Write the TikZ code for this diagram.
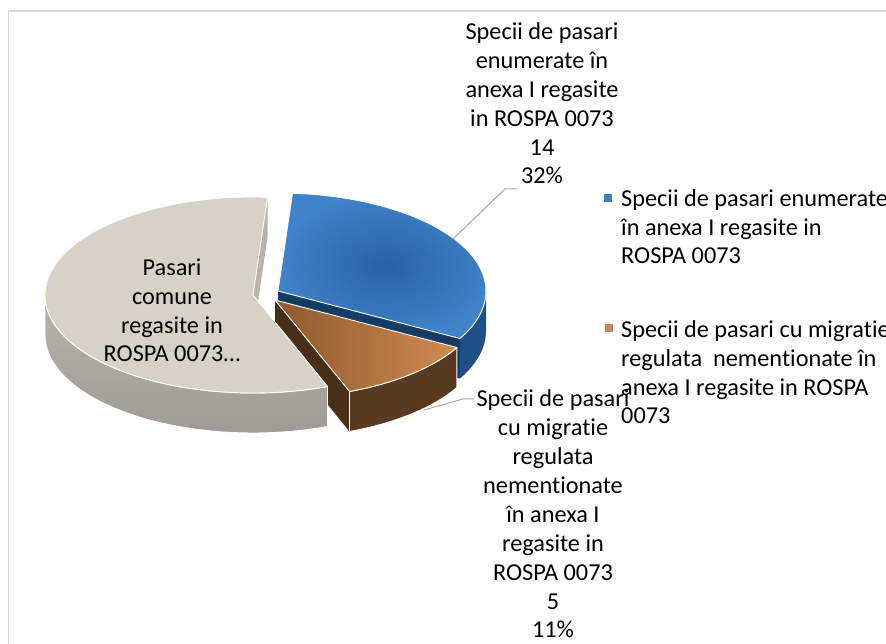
\documentclass[tikz,border=0pt]{standalone}
\usepackage{fontspec}
\setmainfont{Carlito}[Ligatures=NoCommon]
\usetikzlibrary{calc}

\definecolor{bluetop}{HTML}{3F83CA}
\definecolor{bluedark}{HTML}{2A62A2}
\definecolor{blueside}{HTML}{1F5186}
\definecolor{blueface}{HTML}{163C64}
\definecolor{brownlight}{HTML}{D08A50}
\definecolor{browndark}{HTML}{8E5A2E}
\definecolor{brownside}{HTML}{5A3A1E}
\definecolor{brownface}{HTML}{4A2F18}
\definecolor{graytop}{HTML}{D8D2C6}
\definecolor{grayside}{HTML}{B9B4AB}
\definecolor{graylow}{HTML}{9E9A93}
\definecolor{leadgray}{HTML}{A6A6A6}
\definecolor{framegray}{HTML}{D9D9D9}
\definecolor{legblue}{HTML}{3F7FBF}
\definecolor{legbrown}{HTML}{C8875A}

\tikzset{
  lbl/.style={font=\fontsize{24.3}{28.9}\selectfont, align=center, inner sep=0pt},
  legtext/.style={font=\fontsize{24.3}{28.9}\selectfont, align=left, inner sep=0pt, anchor=base west},
  lead/.style={draw=leadgray, line width=1pt},
  rim/.style={draw=white, line width=0.9pt, line join=round},
  pie/.style={x radius=208, y radius=98}
}

\begin{document}
\begin{tikzpicture}[x=1pt, y=1pt]
\useasboundingbox (0,0) rectangle (886,644);
\clip (0,0) rectangle (886,644);
\draw[framegray, line width=1.5pt] (8.5,-2) -- (8.5,633) -- (890,633);

\coordinate (cbl) at (278,353);
\coordinate (cbr) at (275,344);
\coordinate (cgr) at (253,349);

% blue slice
\fill[blueface] (cbl) -- ($(cbl)+(-29:208 and 98)$) -- ++(0,-40) -- ($(cbl)+(0,-40)$) -- cycle;
\fill[blueside] ($(cbl)+(-29:208 and 98)$) arc[pie, start angle=-29, end angle=0]
    -- ++(0,-40) arc[pie, start angle=0, end angle=-29] -- cycle;
\shadedraw[inner color=bluedark, outer color=bluetop, rim] (cbl) -- ($(cbl)+(86:208 and 98)$)
    arc[pie, start angle=86, end angle=-29] -- cycle;

% brown slice
\fill[brownface] (cbr) -- ($(cbr)+(-69:208 and 98)$) -- ++(0,-40) -- ($(cbr)+(0,-40)$) -- cycle;
\filldraw[brownside, rim] ($(cbr)+(-69:208 and 98)$) arc[pie, start angle=-69, end angle=-29]
    -- ++(0,-40) arc[pie, start angle=-29, end angle=-69] -- cycle;
\shadedraw[left color=browndark, right color=brownlight, rim] (cbr) -- ($(cbr)+(-29:208 and 98)$)
    arc[pie, start angle=-29, end angle=-69] -- cycle;

% gray slice
\fill[grayside] (cgr) -- ($(cgr)+(86:208 and 98)$) -- ++(0,-40) -- ($(cgr)+(0,-40)$) -- cycle;
\shadedraw[top color=grayside, bottom color=graylow, rim] ($(cgr)+(180:208 and 98)$) arc[pie, start angle=180, end angle=291]
    -- ++(0,-40) arc[pie, start angle=291, end angle=180] -- cycle;
\filldraw[graytop, rim] (cgr) -- ($(cgr)+(86:208 and 98)$)
    arc[pie, start angle=86, end angle=291] -- cycle;

% labels (base = last line)
\node[lbl, anchor=base] (toplbl) at (542,460) {Specii de pasari\\enumerate în\\anexa I regasite\\in ROSPA 0073\\14\\32\%};
\node[lbl, anchor=base] (botlbl) at (553,6) {Specii de pasari\\cu migratie\\regulata\\nementionate\\în anexa I\\regasite in\\ROSPA 0073\\5\\11\%};
\node[lbl, anchor=base] (graylbl) at (172,282) {Pasari\\comune\\regasite in\\ROSPA 0073…};

% leader lines
\coordinate (blueend) at (517,455);
\coordinate (blueknee) at (505,455);
\coordinate (bluetip) at (453,405);
\draw[lead] (blueend) -- (blueknee) -- (bluetip);
\coordinate (brownend) at (474,245);
\coordinate (brownknee) at (463,245);
\coordinate (browntip) at (424,234);
\draw[lead] (brownend) -- (brownknee) -- (browntip);

% legend
\fill[legblue] (604,441.5) rectangle ++(8,8);
\node[legtext] (leg1) at (621,380) {Specii de pasari enumerate\\în anexa I regasite in\\ROSPA 0073};
\fill[legbrown] (605,311.5) rectangle ++(8,8);
\node[legtext] (leg2) at (621,220) {Specii de pasari cu migratie\\regulata\ \ nementionate în\\anexa I regasite in ROSPA\\0073};
\end{tikzpicture}
\end{document}
